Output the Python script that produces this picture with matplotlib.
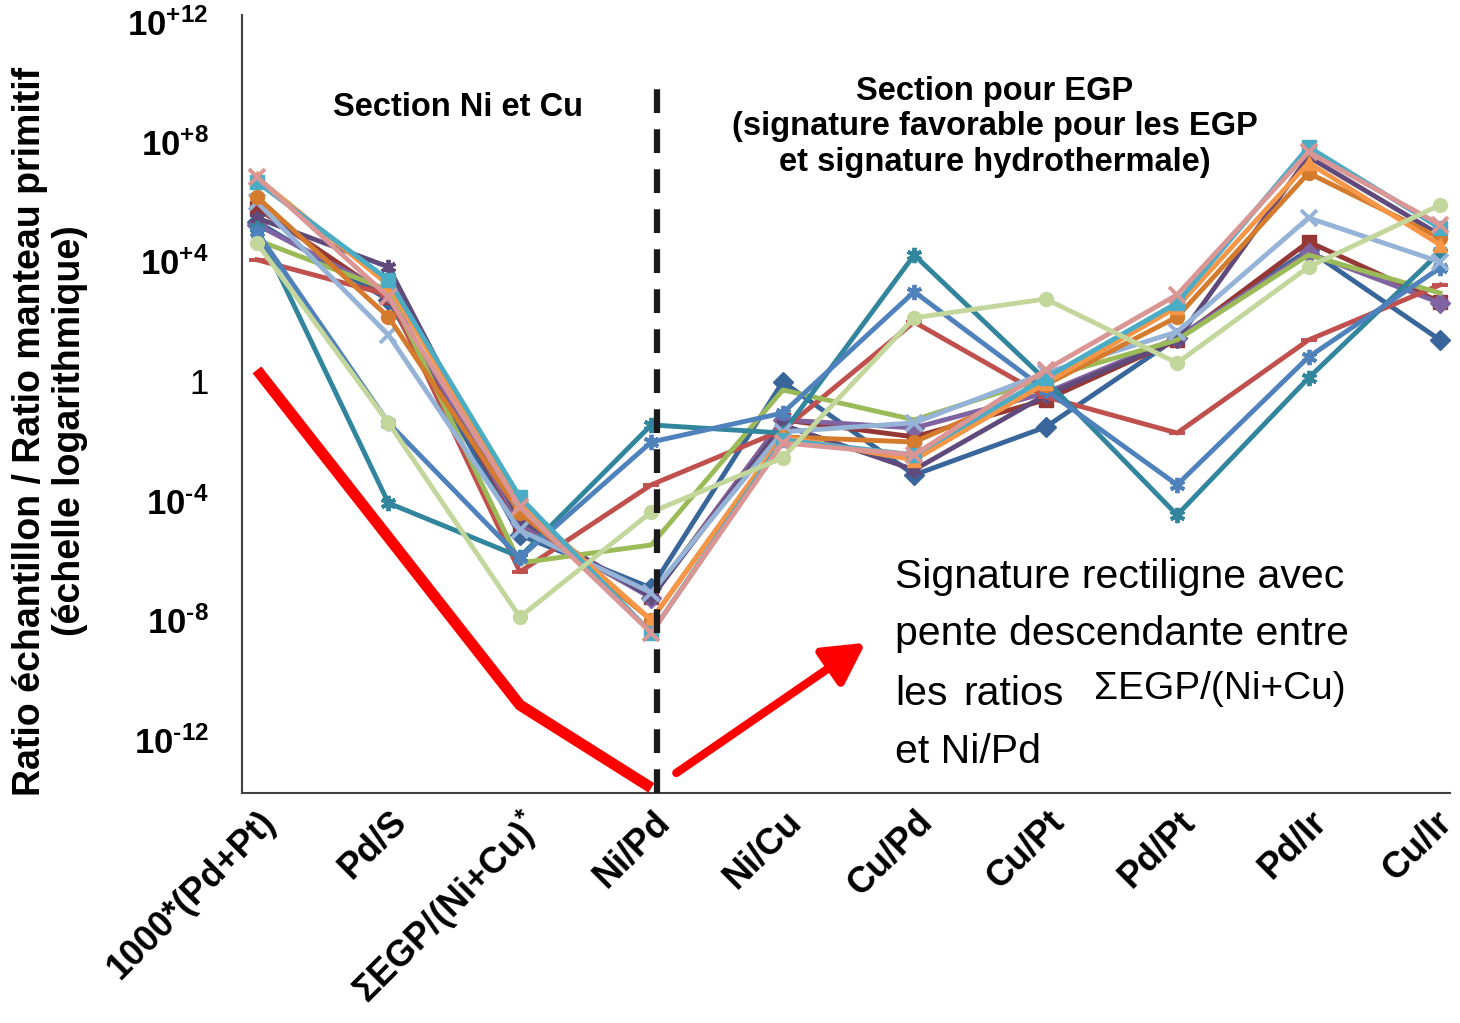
import matplotlib.pyplot as plt
import numpy as np
from matplotlib.transforms import ScaledTranslation

plt.rcParams['font.family'] = ['Liberation Sans', 'DejaVu Sans']
plt.rcParams['mathtext.fontset'] = 'custom'
plt.rcParams['mathtext.rm'] = 'Liberation Sans:bold'
plt.rcParams['mathtext.bf'] = 'Liberation Sans:bold'
plt.rcParams['mathtext.it'] = 'Liberation Sans:bold:italic'

# ── Ratios (x axis) ──────────────────────────────────────────────────────────
ratios = ['1000*(Pd+Pt)', 'Pd/S', 'ΣEGP/(Ni+Cu)$^{*}$', 'Ni/Pd', 'Ni/Cu',
          'Cu/Pd', 'Cu/Pt', 'Pd/Pt', 'Pd/Ir', 'Cu/Ir']

# ── log10(ratio échantillon / ratio manteau primitif), one list per sample ──
ech_01 = [5.11, -4.08, -5.88, -1.47, -1.74, 4.21, 0.03, -4.48, 0.10, 4.31]
ech_02 = [4.98, -1.40, -5.91, -2.04, -1.07, 2.98, -0.30, -3.47, 0.80, 3.78]
ech_03 = [4.05, 2.88, -6.38, -3.47, -1.64, 1.97, -0.53, -1.74, 1.37, 3.21]
ech_04 = [4.71, 3.04, -6.08, -5.48, -0.30, -1.30, 0.10, 1.37, 4.21, 2.94]
ech_05 = [5.32, 2.71, -5.15, -6.92, -0.03, -3.14, -1.54, 1.44, 4.38, 1.37]
ech_06 = [5.22, 2.94, -4.74, -7.25, -1.30, -1.57, -0.40, 1.44, 4.28, 2.61]
ech_07 = [5.45, 3.81, -4.64, -7.22, -1.47, -2.97, -0.47, 1.37, 7.49, 4.88]
ech_08 = [5.78, 2.81, -4.81, -7.22, -1.30, -1.87, -0.63, 1.37, 4.65, 2.64]
ech_09 = [5.98, 1.54, -4.98, -7.08, -1.70, -1.40, 0.27, 1.64, 5.45, 3.98]
ech_10 = [6.79, 3.21, -4.08, -7.99, -1.87, -2.64, -0.07, 2.47, 7.29, 4.55]
ech_11 = [6.15, 2.14, -4.41, -7.99, -1.87, -2.04, -0.13, 2.14, 6.95, 4.78]
ech_12 = [6.65, 3.38, -3.88, -8.42, -1.97, -2.47, 0.10, 2.61, 7.82, 5.11]
ech_13 = [6.82, 2.81, -4.21, -8.42, -2.07, -2.47, 0.37, 2.88, 7.65, 5.22]
ech_14 = [4.61, -1.40, -7.89, -4.38, -2.57, 2.11, 2.74, 0.60, 3.81, 5.88]

# styles: (samples, colour, marker)
styles = [
    (ech_05, '#38659A', 'D'),
    (ech_08, '#953735', 's'),
    (ech_06, '#8064A2', 'D'),
    (ech_07, '#604A7B', (6, 2, 0)),
    (ech_03, '#C0504D', '_'),
    (ech_04, '#9BBB59', None),
    (ech_01, '#31859C', (6, 2, 0)),
    (ech_02, '#4F81BD', (6, 2, 0)),
    (ech_09, '#95B3D7', 'x'),
    (ech_11, '#D47B2E', 'o'),
    (ech_10, '#F79646', '^'),
    (ech_12, '#4BACC6', 's'),
    (ech_13, '#D99694', 'x'),
    (ech_14, '#C3D69B', 'o'),
]

# straight descending signature (annotation), at ratios 0, 2, 3
trend_x = [0, 2, 3]
trend_log = [0.37, -10.83, -13.6]

W, H = 1460, 1023
fig = plt.figure(figsize=(W / 100, H / 100), dpi=100)
ax = fig.add_axes([242 / W, 1 - 793 / H, (1450 - 242) / W, (793 - 15) / H])


def fx(px):
    return px / W


def fy(py):
    return 1 - py / H


x = np.arange(len(ratios))
for vals, col, mk in styles:
    thin = mk in ('x', '_', (6, 2, 0))
    ax.plot(x, 10.0 ** np.array(vals), color=col, lw=3.5, marker=mk,
            markersize=11 if thin else 10, markeredgewidth=2.8 if thin else 1,
            markeredgecolor=col, markerfacecolor=col, clip_on=False)

# red trend line and arrow
ax.plot(trend_x, 10.0 ** np.array(trend_log), color='#FF0000', lw=8,
        solid_capstyle='butt', clip_on=False, zorder=5)
ax.annotate('', xy=(4.63, 10 ** -8.75), xytext=(3.19, 10 ** -13.1),
            arrowprops=dict(arrowstyle='-|>,head_length=0.55,head_width=0.3',
                            color='#FF0000', lw=6, mutation_scale=45,
                            shrinkA=0, shrinkB=0), zorder=5)

# section separator
ax.plot([3.04, 3.04], [10 ** -13.77, 10 ** 10.25], color='#1a1a1a', lw=4.5,
        dashes=(3.8, 2.6), zorder=6, clip_on=False)

ax.set_yscale('log')
ax.set_ylim(10 ** -13.77, 10 ** 12.23)
ax.set_xlim(-0.114, 9.076)
yt = [1e-12, 1e-8, 1e-4, 1, 1e4, 1e8, 1e12]
ax.set_yticks(yt)
ax.set_yticklabels([r'$10^{\text{-}12}$', r'$10^{\text{-}8}$', r'$10^{\text{-}4}$', '1',
                    r'$10^{+4}$', r'$10^{+8}$', r'$10^{+12}$'], fontsize=25)
ax.minorticks_off()
ax.tick_params(axis='y', length=0, pad=24)
ax.set_xticks(x)
ax.set_xticklabels(ratios, rotation=45, ha='right', va='top',
                   rotation_mode='anchor', fontsize=26, fontweight='bold')
ax.tick_params(axis='x', length=0, pad=8)
labels = ax.get_xticklabels()
for i, lab in enumerate(labels):
    dx = 0.5 if i < len(labels) - 1 else -4.0
    lab.set_transform(lab.get_transform() + ScaledTranslation(dx / 72, 0, fig.dpi_scale_trans))

for side in ('top', 'right'):
    ax.spines[side].set_visible(False)
for side in ('left', 'bottom'):
    ax.spines[side].set_color('#404040')
    ax.spines[side].set_linewidth(1.5)

fig.text(fx(50), fy(431), 'Ratio échantillon / Ratio manteau primitif\n(échelle logarithmique)',
         rotation=90, ha='center', va='center', multialignment='center',
         fontsize=27, fontweight='bold', linespacing=1.15)

fig.text(fx(458), fy(107), 'Section Ni et Cu', ha='center', va='center',
         fontsize=23.5, fontweight='bold')
fig.text(fx(995), fy(127),
         'Section pour EGP\n(signature favorable pour les EGP\net signature hydrothermale)',
         ha='center', va='center', multialignment='center', fontsize=23.5,
         fontweight='bold', linespacing=1.2)

# annotation block
fig.text(fx(895), fy(577), 'Signature rectiligne avec', ha='left', va='center', fontsize=29.5)
fig.text(fx(895), fy(634), 'pente descendante entre', ha='left', va='center', fontsize=29.5)
fig.text(fx(895), fy(694), 'les', ha='left', va='center', fontsize=29.5)
fig.text(fx(1064), fy(694), 'ratios', ha='right', va='center', fontsize=29.5)
fig.text(fx(1346), fy(689), 'ΣEGP/(Ni+Cu)', ha='right', va='center', fontsize=28)
fig.text(fx(895), fy(752), 'et Ni/Pd', ha='left', va='center', fontsize=29.5)

fig.savefig('out.png', dpi=100)
